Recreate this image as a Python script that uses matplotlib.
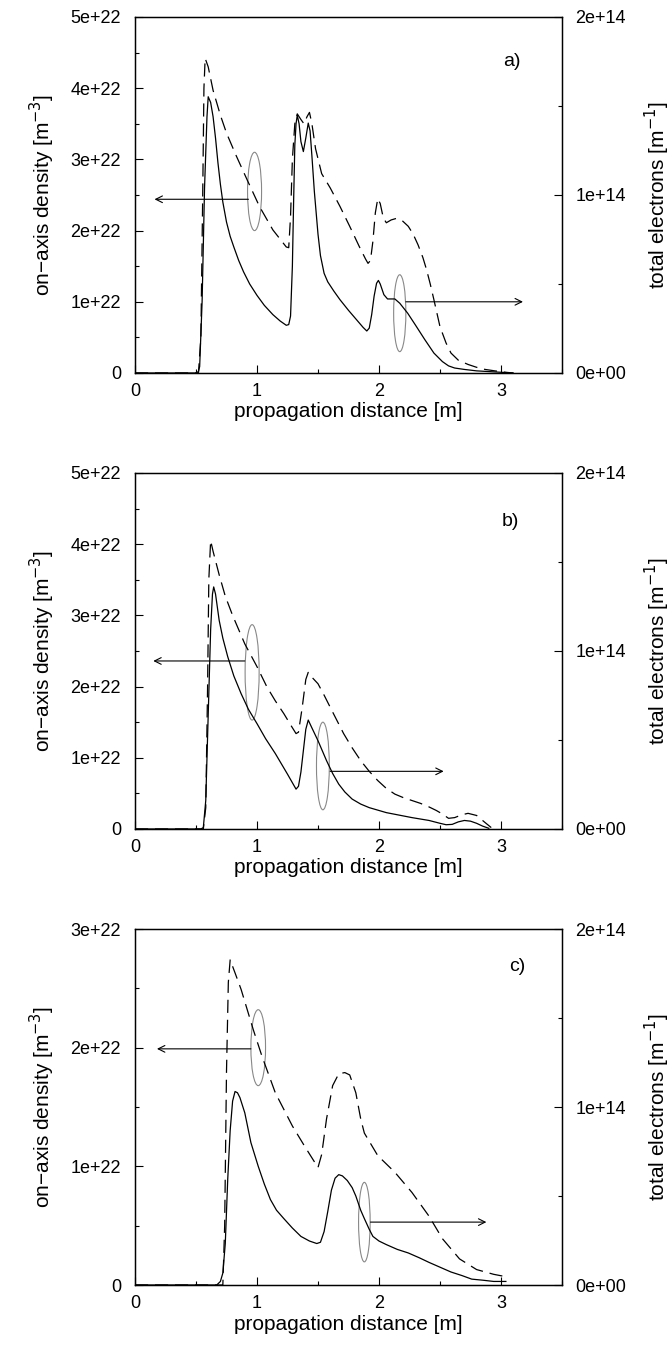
import matplotlib
matplotlib.use("Agg")
import matplotlib.pyplot as plt
from matplotlib.patches import Ellipse
from matplotlib.ticker import MultipleLocator

plt.rcParams["font.family"] = ["Liberation Sans", "DejaVu Sans"]

# dashed = on-axis density (left axis, units of 1e22 m^-3)
# solid  = total electrons (right axis, units of 1e14 m^-1)

# panel a)
xa_dens = [0, 0.52, 0.54, 0.555, 0.565, 0.575, 0.60, 0.64, 0.70, 0.75, 0.83, 0.92, 1.02, 1.13,
           1.24, 1.26, 1.275, 1.29, 1.31, 1.33, 1.36, 1.385, 1.41, 1.43, 1.45, 1.48, 1.53,
           1.60, 1.68, 1.76, 1.84, 1.89, 1.91, 1.93, 1.95, 1.97, 1.99, 2.01, 2.035, 2.06,
           2.10, 2.14, 2.19, 2.24, 2.28, 2.32, 2.36, 2.39, 2.42, 2.45, 2.50, 2.55, 2.59, 2.65,
           2.73, 2.80, 2.87, 2.95, 3.04, 3.10]
ya_dens = [0, 0, 0.5, 2.5, 4.0, 4.42, 4.3, 3.97, 3.62, 3.37, 3.05, 2.71, 2.34, 2.01,
           1.77, 1.76, 2.2, 3.0, 3.5, 3.64, 3.56, 3.5, 3.6, 3.66, 3.5, 3.15, 2.80,
           2.6, 2.34, 2.06, 1.77, 1.6, 1.54, 1.58, 1.85, 2.25, 2.45, 2.38, 2.18, 2.11,
           2.15, 2.17, 2.14, 2.06, 1.95, 1.8, 1.62, 1.45, 1.25, 1.03, 0.65, 0.42, 0.28, 0.18,
           0.12, 0.08, 0.05, 0.03, 0.01, 0]
xa_tot = [0, 0.50, 0.52, 0.53, 0.55, 0.57, 0.59, 0.60, 0.62, 0.64, 0.66, 0.68, 0.70, 0.72,
          0.75, 0.78, 0.81, 0.85, 0.89, 0.94, 1.00, 1.06, 1.13, 1.19, 1.24, 1.26, 1.275, 1.29,
          1.30, 1.31, 1.32, 1.33, 1.345, 1.36, 1.38, 1.40, 1.42, 1.435, 1.45, 1.47, 1.50,
          1.52, 1.55, 1.58, 1.63, 1.68, 1.75, 1.82, 1.87, 1.90, 1.92, 1.94, 1.96, 1.98, 1.995,
          2.01, 2.04, 2.07, 2.10, 2.13, 2.17, 2.235, 2.30, 2.375, 2.45, 2.52, 2.57, 2.62,
          2.70, 2.80, 2.90, 3.00, 3.10]
ya_tot = [0, 0, 0.008, 0.036, 0.40, 1.04, 1.44, 1.552, 1.52, 1.44, 1.32, 1.18, 1.06, 0.96,
          0.848, 0.768, 0.708, 0.632, 0.568, 0.50, 0.436, 0.38, 0.328, 0.292, 0.268, 0.272,
          0.32, 0.60, 0.96, 1.28, 1.40, 1.448, 1.40, 1.30, 1.244, 1.32, 1.404, 1.36, 1.22,
          1.02, 0.78, 0.66, 0.56, 0.512, 0.46, 0.412, 0.352, 0.296, 0.256, 0.236, 0.252,
          0.328, 0.432, 0.504, 0.52, 0.50, 0.44, 0.416, 0.416, 0.416, 0.392, 0.336, 0.268,
          0.188, 0.112, 0.064, 0.04, 0.028, 0.02, 0.012, 0.008, 0.004, 0]

# panel b)
xb_dens = [0, 0.56, 0.58, 0.595, 0.605, 0.62, 0.64, 0.69, 0.74, 0.80, 0.90, 1.00, 1.08, 1.15,
           1.22, 1.28, 1.32, 1.34, 1.37, 1.40, 1.42, 1.44, 1.50, 1.55, 1.60, 1.71, 1.78, 1.85,
           1.92, 1.99, 2.06, 2.13, 2.20, 2.27, 2.34, 2.41, 2.47, 2.52, 2.57, 2.62, 2.68, 2.73,
           2.80, 2.87, 2.92]
yb_dens = [0, 0, 0.3, 2.0, 3.5, 4.05, 3.9, 3.57, 3.27, 3.0, 2.6, 2.28, 2.0, 1.8,
           1.62, 1.45, 1.34, 1.36, 1.7, 2.1, 2.2, 2.15, 2.04, 1.88, 1.71, 1.34, 1.14, 0.96,
           0.81, 0.68, 0.57, 0.49, 0.44, 0.40, 0.36, 0.31, 0.26, 0.21, 0.15, 0.16, 0.20, 0.22,
           0.19, 0.09, 0.02]
xb_tot = [0, 0.54, 0.56, 0.58, 0.60, 0.62, 0.635, 0.645, 0.66, 0.69, 0.72, 0.76, 0.81, 0.87,
          0.93, 1.00, 1.07, 1.15, 1.25, 1.32, 1.34, 1.36, 1.38, 1.40, 1.42, 1.45, 1.50, 1.57,
          1.62, 1.67, 1.72, 1.78, 1.85, 1.92, 2.06, 2.27, 2.41, 2.50, 2.55, 2.60, 2.65, 2.70,
          2.75, 2.80, 2.85, 2.90]
yb_tot = [0, 0, 0.008, 0.16, 0.64, 1.12, 1.32, 1.36, 1.32, 1.172, 1.072, 0.968, 0.86, 0.76,
          0.672, 0.592, 0.508, 0.424, 0.308, 0.224, 0.24, 0.32, 0.44, 0.56, 0.612, 0.568,
          0.496, 0.384, 0.312, 0.252, 0.208, 0.168, 0.14, 0.12, 0.092, 0.064, 0.048, 0.032,
          0.024, 0.026, 0.04, 0.048, 0.044, 0.032, 0.016, 0.004]

# panel c)
xc_dens = [0, 0.72, 0.735, 0.75, 0.765, 0.78, 0.82, 0.87, 0.97, 1.04, 1.15, 1.29, 1.39, 1.50,
           1.53, 1.57, 1.62, 1.67, 1.72, 1.76, 1.81, 1.85, 1.88, 1.99, 2.13, 2.27, 2.41, 2.52,
           2.66, 2.80, 2.94, 3.04]
yc_dens = [0, 0, 0.5, 1.8, 2.55, 2.74, 2.63, 2.49, 2.15, 1.93, 1.62, 1.34, 1.17, 0.99,
           1.1, 1.40, 1.68, 1.78, 1.79, 1.77, 1.62, 1.40, 1.28, 1.09, 0.95, 0.78, 0.58, 0.39,
           0.22, 0.13, 0.09, 0.07]
xc_tot = [0, 0.67, 0.70, 0.72, 0.74, 0.76, 0.78, 0.80, 0.82, 0.84, 0.86, 0.90, 0.95, 1.01,
          1.06, 1.11, 1.16, 1.22, 1.29, 1.36, 1.43, 1.49, 1.52, 1.55, 1.58, 1.61, 1.64, 1.67,
          1.70, 1.74, 1.78, 1.81, 1.85, 1.88, 1.92, 1.95, 2.00, 2.06, 2.15, 2.24, 2.33, 2.41,
          2.50, 2.59, 2.68, 2.76, 2.85, 2.94, 3.04]
yc_tot = [0, 0, 0.02, 0.067, 0.233, 0.593, 0.867, 1.033, 1.087, 1.08, 1.053, 0.967, 0.8,
          0.667, 0.567, 0.48, 0.42, 0.373, 0.32, 0.273, 0.247, 0.233, 0.24, 0.3, 0.413, 0.533,
          0.6, 0.62, 0.613, 0.587, 0.547, 0.5, 0.42, 0.373, 0.313, 0.273, 0.247, 0.227, 0.2,
          0.18, 0.153, 0.127, 0.1, 0.073, 0.053, 0.033, 0.027, 0.02, 0.02]

dens_ticks_ab = ["0", "1e+22", "2e+22", "3e+22", "4e+22", "5e+22"]
dens_ticks_c = ["0", "1e+22", "2e+22", "3e+22"]
tot_ticks = ["0e+00", "1e+14", "2e+14"]

# ellipse (x, y, w, h) and arrow (x_start, y, x_end) in left-axis units
panels = [
    dict(xd=xa_dens, yd=ya_dens, xt=xa_tot, yt=ya_tot, yl=dens_ticks_ab, tag="a)",
         tagpos=(3.09, 4.37),
         ell_l=(0.98, 2.55, 0.115, 1.1), arr_l=(0.93, 2.44, 0.16),
         ell_r=(2.17, 0.84, 0.10, 1.08), arr_r=(2.22, 1.0, 3.18)),
    dict(xd=xb_dens, yd=yb_dens, xt=xb_tot, yt=yb_tot, yl=dens_ticks_ab, tag="b)",
         tagpos=(3.08, 4.32),
         ell_l=(0.96, 2.2, 0.115, 1.34), arr_l=(0.90, 2.36, 0.15),
         ell_r=(1.54, 0.885, 0.105, 1.23), arr_r=(1.60, 0.81, 2.53)),
    dict(xd=xc_dens, yd=yc_dens, xt=xc_tot, yt=yc_tot, yl=dens_ticks_c, tag="c)",
         tagpos=(3.13, 2.68),
         ell_l=(1.01, 2.0, 0.12, 0.64), arr_l=(0.95, 1.99, 0.18),
         ell_r=(1.88, 0.53, 0.095, 0.67), arr_r=(1.93, 0.53, 2.88)),
]

W, H = 672, 1348
fig = plt.figure(figsize=(W / 100, H / 100), dpi=100)
tops = [17, 473, 929]

for p, top in zip(panels, tops):
    ax = fig.add_axes([135 / W, 1 - (top + 356) / H, 427 / W, 356 / H])
    ax2 = ax.twinx()
    ymax = len(p["yl"]) - 1

    ax.plot(p["xd"], p["yd"], color="black", lw=0.9, ls=(0, (10.5, 5.5)))
    ax2.plot(p["xt"], p["yt"], color="black", lw=0.9)

    ax.set_xlim(0, 3.5)
    ax.set_ylim(0, ymax)
    ax2.set_ylim(0, 2)

    ax.xaxis.set_major_locator(MultipleLocator(1))
    ax.xaxis.set_minor_locator(MultipleLocator(0.5))
    ax.set_yticks(range(ymax + 1))
    ax.set_yticklabels(p["yl"])
    ax.yaxis.set_minor_locator(MultipleLocator(0.5))
    ax2.set_yticks([0, 1, 2])
    ax2.set_yticklabels(tot_ticks)
    ax2.yaxis.set_minor_locator(MultipleLocator(0.5))

    ax.tick_params(axis="x", which="major", direction="in", length=6, width=0.8,
                   labelsize=13, pad=7)
    ax.tick_params(axis="x", which="minor", direction="in", length=3, width=0.8)
    ax.tick_params(axis="y", which="major", direction="in", length=6, width=0.8,
                   labelsize=13, pad=10)
    ax.tick_params(axis="y", which="minor", direction="in", length=3, width=0.8)
    ax2.tick_params(axis="y", which="major", direction="in", length=6, width=0.8,
                    labelsize=13, pad=9.5)
    ax2.tick_params(axis="y", which="minor", direction="in", length=3, width=0.8)

    for s in ax.spines.values():
        s.set_linewidth(1.0)

    ax.set_xlabel("propagation distance [m]", fontsize=15, labelpad=2)
    ax.set_ylabel("on\u2212axis density [m$^{-3}$]", fontsize=15, labelpad=10)
    ax2.set_ylabel("total electrons [m$^{-1}$]", fontsize=15, labelpad=12)

    ax.text(p["tagpos"][0], p["tagpos"][1], p["tag"], fontsize=14, ha="center", va="center")

    for ell, arr in ((p["ell_l"], p["arr_l"]), (p["ell_r"], p["arr_r"])):
        ex, ey, ew, eh = ell
        ax.add_patch(Ellipse((ex, ey), ew, eh, fill=False, edgecolor="#888888", lw=0.8))
        x0, y0, x1 = arr
        ax.annotate("", xy=(x1, y0), xytext=(x0, y0),
                    arrowprops=dict(arrowstyle="->", lw=0.8, color="black",
                                    shrinkA=0, shrinkB=0, mutation_scale=12))

fig.savefig("out.png", dpi=100)
